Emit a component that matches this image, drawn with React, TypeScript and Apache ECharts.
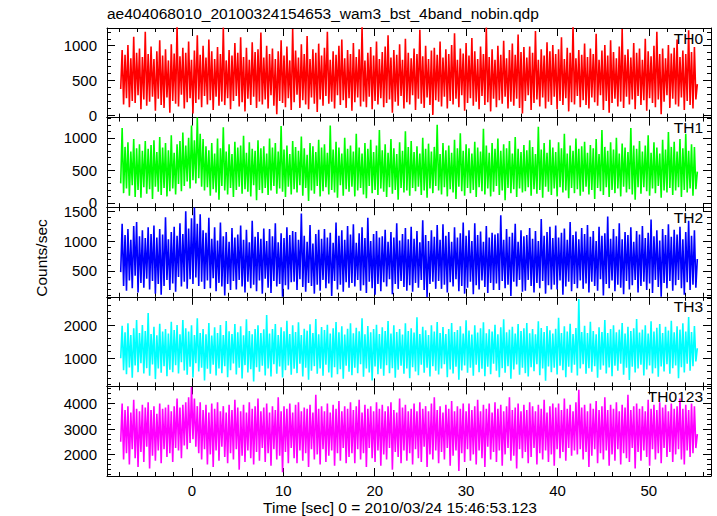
import React, { useEffect, useRef } from 'react';
import * as echarts from 'echarts';

// Light curve bins (start time and bin width, seconds)
const T0 = -7.8;
const DT = 0.15815;

const TH0 = [
  380, 940, 160, 870, 250, 1010, 120, 820, 210, 1130, 180, 900, 290, 960, 90, 840, 230, 1200, 140, 880,
  200, 990, 270, 810, 70, 920, 240, 1080, 150, 860, 110, 950, 260, 790, 40, 1020, 210, 890, 170, 1290,
  130, 850, 300, 970, 100, 900, 190, 1060, 250, 800, 30, 930, 180, 1150, 230, 870, 120, 1000, 280, 830,
  160, 1090, 220, 920, 80, 810, 270, 980, 140, 880, 200, 1260, 150, 790, 250, 940, 90, 860, 210, 1040,
  280, 900, 130, 1120, 190, 840, 60, 970, 240, 800, 150, 1050, 270, 910, 110, 950, 200, 1190, 160, 830,
  230, 1000, 100, 880, 290, 960, 140, 810, 20, 920, 210, 1080, 180, 860, 120, 990, 250, 790, 80, 1240,
  190, 930, 300, 830, 110, 1020, 220, 880, 160, 1140, 90, 810, 260, 950, 170, 900, 50, 1030, 230, 860,
  140, 970, 280, 1200, 170, 800, 200, 920, 100, 870, 290, 1000, 150, 1090, 220, 820, 110, 940, 250, 880,
  70, 1040, 190, 840, 260, 950, 130, 1270, 200, 790, 120, 900, 270, 980, 90, 860, 210, 1060, 160, 810,
  250, 910, 120, 990, 180, 1150, 230, 830, 40, 940, 200, 870, 140, 1020, 280, 800, 100, 1100, 190, 900,
  160, 820, 290, 960, 80, 880, 240, 1230, 170, 850, 110, 1000, 260, 810, 150, 930, 10, 970, 220, 870,
  200, 1060, 130, 830, 270, 950, 100, 880, 210, 1010, 160, 1180, 240, 800, 120, 960, 290, 890, 70, 1040,
  180, 860, 250, 1110, 140, 920, 200, 810, 90, 990, 280, 880, 150, 1260, 190, 840, 60, 950, 240, 800,
  120, 1000, 220, 870, 170, 1070, 270, 820, 100, 940, 200, 1030, 140, 870, 240, 1160, 110, 910, 30, 980,
  210, 830, 290, 990, 80, 900, 180, 1210, 230, 800, 130, 950, 260, 860, 100, 1050, 200, 920, 150, 1010,
  270, 880, 90, 950, 210, 1120, 150, 810, 250, 970, 60, 900, 190, 1290, 160, 820, 280, 940, 120, 870,
  220, 1030, 150, 840, 100, 960, 260, 880, 190, 1170, 140, 800, 290, 930, 80, 1010, 210, 860, 40, 1080,
  180, 910, 240, 820, 130, 990, 200, 1240, 110, 870, 270, 950, 160, 830, 230, 1040, 90, 900, 280, 960,
  150, 800, 220, 1100, 70, 920, 250, 850, 180, 1000, 120, 1200, 230, 880, 20, 960, 200, 820, 290, 1010,
  110, 890, 240, 970, 160, 1090, 130, 840, 260, 930, 80, 880, 210, 1220, 150, 910, 100, 980, 230, 450,
];

const TH1 = [
  300, 1150, 150, 860, 220, 930, 110, 790, 270, 980, 90, 840, 200, 900, 80, 800, 240, 950, 140, 830,
  210, 890, 60, 960, 250, 780, 170, 1010, 120, 850, 230, 920, 100, 810, 180, 1040, 220, 770, 130, 900,
  290, 950, 180, 1080, 260, 880, 330, 1000, 220, 1190, 350, 960, 300, 1310, 380, 1060, 250, 980, 190, 870,
  240, 810, 110, 920, 210, 760, 160, 990, 50, 840, 260, 1160, 190, 790, 130, 900, 230, 750, 90, 940,
  200, 850, 250, 880, 140, 1030, 210, 770, 170, 930, 100, 830, 270, 800, 40, 960, 200, 840, 150, 870,
  230, 760, 120, 990, 190, 850, 260, 920, 140, 790, 220, 1180, 170, 820, 90, 880, 250, 750, 130, 950,
  210, 860, 160, 800, 270, 1020, 110, 840, 230, 740, 30, 920, 190, 870, 140, 780, 260, 970, 100, 850,
  180, 900, 240, 770, 130, 1190, 200, 820, 160, 940, 80, 850, 270, 760, 110, 1000, 210, 830, 170, 880,
  250, 790, 100, 1060, 190, 850, 230, 760, 130, 920, 70, 830, 260, 970, 150, 780, 200, 880, 120, 1120,
  220, 810, 170, 900, 90, 770, 240, 980, 140, 840, 200, 750, 50, 930, 230, 800, 160, 1100, 190, 860,
  110, 950, 230, 780, 180, 870, 250, 760, 120, 1000, 190, 830, 80, 910, 220, 790, 150, 860, 260, 1200,
  190, 750, 130, 920, 240, 810, 100, 880, 210, 770, 160, 970, 60, 840, 250, 1070, 180, 800, 110, 900,
  230, 840, 150, 760, 200, 940, 90, 850, 240, 790, 180, 1140, 130, 880, 220, 770, 100, 920, 170, 830,
  260, 990, 120, 800, 190, 900, 40, 840, 230, 950, 150, 760, 210, 1010, 90, 830, 220, 780, 160, 890,
  180, 810, 240, 960, 110, 860, 210, 750, 140, 1170, 200, 820, 80, 920, 250, 770, 170, 970, 120, 850,
  220, 780, 100, 930, 240, 840, 160, 1060, 190, 760, 70, 880, 230, 800, 150, 990, 210, 830, 110, 870,
  170, 940, 250, 770, 130, 890, 200, 840, 60, 980, 230, 750, 180, 1120, 120, 860, 240, 800, 90, 930,
  200, 820, 150, 1000, 220, 760, 100, 910, 250, 850, 160, 780, 210, 1150, 130, 880, 50, 830, 240, 950,
  140, 790, 240, 880, 180, 1040, 110, 770, 220, 930, 150, 850, 260, 760, 80, 970, 190, 820, 160, 1090,
  230, 860, 120, 940, 190, 790, 240, 980, 90, 840, 200, 1060, 160, 800, 220, 900, 110, 860, 210, 480,
];

const TH2 = [
  480, 1290, 250, 1100, 170, 1200, 340, 1020, 210, 1250, 420, 1320, 140, 1080, 300, 1180, 220, 1050, 370, 1230,
  190, 1120, 330, 1260, 120, 1060, 280, 1200, 100, 1110, 250, 1400, 350, 1030, 180, 1150, 290, 1240, 150, 1090,
  400, 1300, 240, 1120, 320, 1500, 200, 1210, 360, 1380, 280, 1560, 390, 1290, 250, 1450, 320, 1180, 200, 1140,
  340, 1390, 210, 1040, 380, 1230, 160, 1010, 300, 1310, 240, 1080, 90, 1150, 280, 990, 180, 1220, 330, 1060,
  190, 1110, 350, 1260, 240, 1020, 140, 1190, 320, 980, 210, 1340, 270, 1070, 160, 1150, 340, 1040, 120, 1210,
  370, 1000, 220, 1200, 130, 1080, 330, 1300, 240, 980, 280, 1130, 70, 1050, 260, 1230, 190, 1100, 310, 1170,
  320, 1150, 180, 1020, 360, 1460, 230, 1090, 150, 990, 300, 1270, 250, 960, 120, 1120, 270, 1190, 170, 1040,
  350, 1200, 210, 1060, 290, 1140, 80, 970, 330, 1310, 190, 1090, 270, 1180, 150, 1020, 310, 1250, 220, 1110,
  300, 1280, 240, 970, 350, 1130, 170, 1230, 260, 1050, 130, 1390, 320, 1000, 210, 1120, 100, 1170, 280, 1060,
  160, 1080, 310, 1190, 240, 990, 360, 1150, 110, 1060, 280, 1300, 200, 1010, 330, 1120, 230, 1220, 170, 1030,
  260, 1240, 150, 1040, 300, 1170, 220, 980, 350, 1350, 180, 1100, 60, 1000, 280, 1180, 320, 1070, 200, 1270,
  330, 1020, 200, 1280, 270, 1090, 140, 1150, 310, 990, 240, 1230, 360, 1060, 160, 1130, 250, 1310, 120, 1090,
  220, 1180, 320, 1000, 110, 1300, 260, 1100, 190, 1160, 340, 990, 230, 1250, 130, 1060, 300, 1140, 180, 1110,
  290, 1130, 180, 1430, 330, 1020, 210, 1200, 270, 1070, 80, 1140, 320, 1290, 240, 990, 350, 1180, 150, 1080,
  170, 1100, 350, 1220, 250, 1040, 140, 1170, 300, 1000, 210, 1370, 330, 1090, 120, 1150, 260, 1240, 190, 1050,
  270, 1260, 190, 1060, 340, 1140, 100, 1210, 240, 1020, 320, 1320, 160, 1100, 280, 1160, 210, 1030, 340, 1220,
  200, 1120, 290, 1270, 140, 1070, 320, 1170, 250, 1000, 170, 1240, 360, 1090, 90, 1130, 280, 1410, 210, 1040,
  340, 1200, 160, 1080, 270, 1300, 220, 1030, 110, 1150, 330, 1100, 190, 1230, 260, 990, 350, 1170, 140, 1110,
  250, 1250, 320, 1050, 180, 1140, 290, 1360, 130, 1080, 350, 1180, 230, 1010, 70, 1200, 300, 1100, 210, 1280,
  330, 1070, 170, 1190, 260, 1110, 350, 1240, 210, 1030, 100, 1150, 310, 1340, 180, 1090, 270, 1180, 220, 700,
];

const TH3 = [
  1000, 1980, 640, 1780, 520, 2050, 720, 1700, 410, 1900, 780, 2150, 580, 1760, 850, 2000, 540, 1820, 700, 2360,
  470, 1730, 810, 1950, 370, 1690, 690, 2040, 560, 1800, 760, 1880, 460, 1740, 650, 2100, 580, 1850, 790, 2000,
  540, 1720, 880, 2150, 630, 1900, 500, 1800, 740, 1990, 420, 1700, 850, 2200, 600, 1760, 710, 1880, 330, 1720,
  680, 2060, 530, 1680, 800, 1930, 480, 1760, 690, 2000, 550, 1700, 760, 2120, 430, 1810, 640, 1730, 840, 2030,
  510, 1780, 710, 1960, 390, 1690, 790, 2170, 570, 1820, 670, 1720, 300, 1880, 730, 1990, 590, 1760, 770, 1870,
  480, 2300, 690, 1740, 450, 1880, 820, 2030, 530, 1700, 750, 1930, 420, 1810, 640, 2130, 780, 1730, 500, 1990,
  680, 1790, 550, 2080, 830, 1700, 450, 1890, 710, 1830, 350, 2020, 620, 1760, 760, 2180, 530, 1720, 690, 1940,
  470, 1850, 800, 2010, 570, 1740, 420, 1900, 730, 2090, 520, 1780, 670, 1960, 380, 1710, 770, 1890, 590, 2050,
  490, 1750, 710, 1920, 550, 1810, 820, 2200, 440, 1720, 690, 1970, 570, 1780, 330, 1880, 750, 2010, 520, 1730,
  680, 1930, 470, 1820, 790, 2120, 550, 1740, 700, 1990, 410, 1790, 650, 1880, 770, 1710, 530, 2050, 690, 1820,
  400, 1900, 730, 1770, 600, 2230, 490, 1730, 800, 1950, 560, 1840, 710, 1700, 450, 1990, 760, 1800, 620, 2090,
  510, 1760, 690, 1940, 820, 1730, 430, 1880, 660, 2060, 540, 1790, 740, 1850, 350, 1960, 630, 1740, 780, 2140,
  560, 1830, 710, 1710, 470, 1990, 800, 1770, 580, 1900, 680, 2080, 460, 1750, 740, 1870, 520, 1800, 830, 2010,
  620, 1720, 430, 1930, 700, 2170, 560, 1780, 760, 1860, 380, 1950, 660, 1740, 810, 2030, 500, 1820, 710, 1900,
  550, 2060, 450, 1750, 730, 1880, 610, 1720, 820, 2110, 490, 1910, 690, 1790, 320, 1970, 750, 1840, 580, 1740,
  710, 1890, 510, 2220, 770, 1760, 640, 1960, 430, 1800, 740, 2040, 560, 1730, 800, 1910, 480, 2780, 690, 1790,
  820, 1980, 530, 1760, 700, 2100, 590, 1820, 760, 1720, 410, 1930, 650, 1790, 780, 2150, 540, 1760, 720, 1880,
  460, 1990, 770, 1780, 620, 1860, 830, 2060, 500, 1740, 710, 1950, 340, 1820, 740, 1900, 570, 2180, 690, 1770,
  800, 1860, 480, 1990, 660, 1740, 780, 2110, 540, 1800, 700, 1920, 440, 2030, 750, 1760, 600, 1950, 820, 1830,
  530, 2130, 700, 1780, 780, 1960, 400, 1860, 730, 2050, 570, 1800, 830, 2240, 620, 1790, 760, 1970, 900, 1300,
];

const TH0123 = [
  2500, 4000, 1800, 3750, 2050, 3900, 1600, 3650, 2200, 4150, 1850, 3800, 1500, 3700, 2100, 3950, 1700, 3850, 2300, 4050,
  1450, 3750, 1950, 3900, 1750, 3600, 2150, 4000, 1650, 3800, 2200, 3850, 1900, 3950, 2050, 3700, 1700, 3900, 2250, 4200,
  2150, 3850, 1850, 3950, 2350, 4050, 2200, 4250, 2450, 4650, 2600, 4200, 2300, 3900, 2050, 4050, 1800, 3750, 2200, 3950,
  1600, 3650, 2000, 4000, 1500, 3800, 2150, 4050, 1750, 3700, 2300, 3900, 1900, 3650, 1650, 3950, 2050, 3750, 1800, 4150,
  2200, 3850, 1400, 3700, 1950, 3950, 1700, 3650, 2150, 4050, 1850, 3800, 1600, 3900, 2100, 4200, 1750, 3700, 2250, 3850,
  1700, 4000, 2050, 3650, 1550, 3900, 2200, 3750, 1800, 4250, 1950, 3700, 1300, 3900, 2100, 3800, 1650, 4000, 2250, 3650,
  1850, 3950, 1650, 4050, 2150, 3700, 1750, 3850, 2050, 3800, 1500, 3950, 2200, 3650, 1800, 4350, 2000, 3800, 1600, 3900,
  2200, 3700, 1700, 4000, 1950, 3650, 2150, 3950, 1550, 3800, 2050, 4100, 1750, 3700, 2250, 3900, 1650, 3800, 1900, 4050,
  2050, 3750, 1650, 3900, 2200, 4150, 1800, 3650, 2050, 3950, 1500, 3800, 2250, 3900, 1850, 3700, 1700, 4050, 2150, 3800,
  1550, 3950, 2000, 3700, 1800, 3900, 2250, 4050, 1400, 3750, 2100, 3650, 1900, 4200, 1650, 3850, 2150, 3950, 1750, 3700,
  2050, 3800, 1600, 4000, 2200, 3700, 1850, 4050, 1700, 3800, 2300, 3900, 1500, 3700, 2000, 4000, 1800, 4250, 2150, 3750,
  1650, 3900, 2100, 3650, 1800, 3950, 2250, 3800, 1550, 4100, 1950, 3700, 2150, 3900, 1350, 3800, 2050, 4000, 1700, 3700,
  2200, 4000, 1750, 3750, 2000, 3900, 1600, 4150, 2150, 3700, 1850, 3950, 1500, 3800, 2300, 4000, 1800, 3650, 2100, 4050,
  1700, 3800, 2150, 3950, 1550, 3700, 2000, 3900, 2250, 4250, 1750, 3750, 1950, 3850, 1450, 4000, 2200, 3700, 1850, 3950,
  2100, 3750, 1650, 4050, 1900, 3900, 2250, 3700, 1600, 3950, 2050, 3800, 1800, 4150, 2150, 3650, 1700, 3900, 2000, 4000,
  1550, 3850, 2200, 4000, 1850, 3750, 2100, 4200, 1750, 3800, 2250, 3950, 1950, 3700, 2150, 4050, 2000, 4550, 2200, 3850,
  1800, 3950, 2100, 3700, 1500, 4000, 1950, 3800, 2200, 4100, 1650, 3750, 2050, 3900, 1800, 4250, 2150, 3750, 1550, 3950,
  2000, 3800, 1750, 4050, 2200, 3700, 1600, 3950, 2050, 3850, 1850, 4350, 1700, 3750, 2250, 3900, 1450, 4000, 2100, 3800,
  1750, 3900, 2150, 3700, 1900, 4150, 1550, 3800, 2200, 3950, 1800, 3750, 2050, 4050, 1650, 3850, 2250, 3950, 1900, 3700,
  2100, 4000, 1700, 3800, 2000, 3900, 2200, 4200, 1800, 3800, 1600, 3950, 2150, 3750, 1900, 4000, 2050, 3900, 2250, 2800,
];

const PANEL_NAMES = ['TH0', 'TH1', 'TH2', 'TH3', 'TH0123'];
const PANEL_SERIES = [TH0, TH1, TH2, TH3, TH0123];
const PANEL_COLORS = ['#ff0000', '#00ff00', '#0000ff', '#00ffff', '#ff00ff'];
const Y_MIN = [-29, -66, 67, 150, 1149];
const Y_MAX = [1254, 1310, 1567, 2850, 4678];
const Y_SPLIT = [3, 3, 3, 3, 4];
const Y_STEP = [500, 500, 500, 1000, 1000];
const X_MIN = -9.3;
const X_MAX = 56.8;

const TITLE = 'ae404068010_20100324154653_wam3_bst_4band_nobin.qdp';
const X_NAME = 'Time [sec] 0 = 2010/03/24 15:46:53.123';
const Y_NAME = 'Counts/sec';

const FONT = 'Liberation Sans, Arial, Helvetica, sans-serif';
const LEFT = 107;
const RIGHT = 6;
const TOP = 28;
const PANEL_H = 89.6;

export default function App() {
  const ref = useRef<HTMLDivElement>(null);
  useEffect(() => {
    if (!ref.current) return;
    const chart = echarts.init(ref.current, undefined, { renderer: 'svg' });
    const grids: any[] = [];
    const xAxes: any[] = [];
    const yAxes: any[] = [];
    const series: any[] = [];
    const graphics: any[] = [];
    const black = { color: '#000', width: 1 };

    PANEL_NAMES.forEach((name, k) => {
      const top = TOP + k * PANEL_H;
      grids.push({ left: LEFT, right: RIGHT, top, height: PANEL_H, containLabel: false });
      const isBottom = k === PANEL_NAMES.length - 1;
      const xBase = {
        gridIndex: k,
        type: 'value',
        min: X_MIN,
        max: X_MAX,
        splitNumber: 6,
        axisLine: { show: true, onZero: false, lineStyle: black },
        axisTick: { show: true, inside: true, length: 8, lineStyle: black },
        minorTick: { show: true, splitNumber: 5, length: 4, lineStyle: black },
        splitLine: { show: false },
      };
      xAxes.push({
        ...xBase,
        position: 'bottom',
        axisLabel: {
          show: isBottom,
          margin: 7,
          fontSize: 15,
          fontFamily: FONT,
          color: '#000',
          showMinLabel: false,
          showMaxLabel: false,
          formatter: (v: number) => (Math.abs(v / 10 - Math.round(v / 10)) < 1e-6 ? String(v) : ''),
        },
      });
      xAxes.push({ ...xBase, position: 'top', axisLabel: { show: false } });

      const step = Y_STEP[k];
      const yBase = {
        gridIndex: k,
        type: 'value',
        min: Y_MIN[k],
        max: Y_MAX[k],
        splitNumber: Y_SPLIT[k],
        axisLine: { show: true, onZero: false, lineStyle: black },
        axisTick: { show: true, inside: true, length: 8, lineStyle: black },
        minorTick: { show: true, splitNumber: 5, length: 4, lineStyle: black },
        splitLine: { show: false },
      };
      yAxes.push({
        ...yBase,
        position: 'left',
        axisLabel: {
          show: true,
          margin: 10,
          fontSize: 15,
          fontFamily: FONT,
          color: '#000',
          showMinLabel: false,
          showMaxLabel: false,
          formatter: (v: number) => (Math.abs(v / step - Math.round(v / step)) < 1e-6 ? String(v) : ''),
        },
      });
      yAxes.push({ ...yBase, position: 'right', axisLabel: { show: false } });

      series.push({
        type: 'line',
        name,
        xAxisIndex: 2 * k,
        yAxisIndex: 2 * k,
        data: PANEL_SERIES[k].map((v, i) => [T0 + i * DT, v]),
        showSymbol: false,
        symbol: 'none',
        clip: true,
        silent: true,
        lineStyle: { width: 1.6, color: PANEL_COLORS[k], join: 'bevel' },
        itemStyle: { color: PANEL_COLORS[k] },
        z: 1,
      });

      graphics.push({
        type: 'text',
        right: RIGHT + 8,
        top: top + 2,
        z: 10,
        style: {
          text: name,
          font: `15.5px ${FONT}`,
          fill: '#000',
        },
      });
    });

    graphics.push({
      type: 'text',
      left: LEFT,
      top: 5,
      style: { text: TITLE, font: `15.5px ${FONT}`, fill: '#000' },
    });
    graphics.push({
      type: 'text',
      x: 400,
      y: 507,
      style: {
        text: X_NAME,
        font: `15.5px ${FONT}`,
        fill: '#000',
        textAlign: 'center',
        textVerticalAlign: 'middle',
      },
    });
    graphics.push({
      type: 'text',
      x: 41,
      y: 258,
      rotation: Math.PI / 2,
      style: {
        text: Y_NAME,
        font: `15.5px ${FONT}`,
        fill: '#000',
        textAlign: 'center',
        textVerticalAlign: 'middle',
      },
    });

    chart.setOption({
      animation: false,
      backgroundColor: '#fff',
      grid: grids,
      xAxis: xAxes,
      yAxis: yAxes,
      series,
      graphic: graphics,
    });
    return () => chart.dispose();
  }, []);
  return (
    <div
      ref={ref}
      style={{ position: 'fixed', left: 0, top: 0, width: 717, height: 516, background: '#fff' }}
    />
  );
}
